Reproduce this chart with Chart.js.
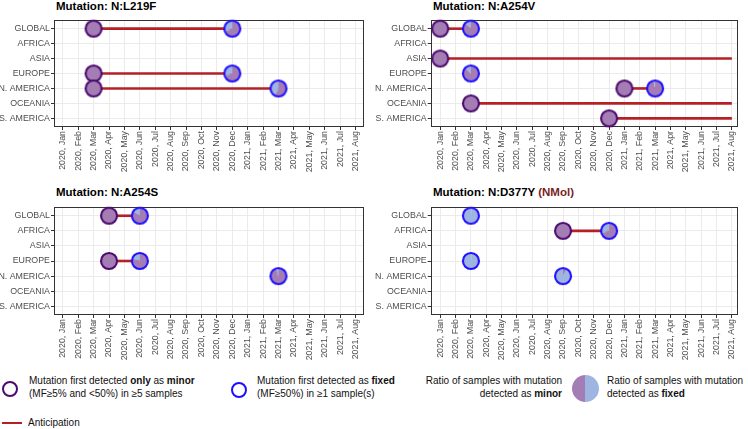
<!DOCTYPE html>
<html><head><meta charset="utf-8">
<script src="https://cdn.jsdelivr.net/npm/chart.js@4.4.1/dist/chart.umd.min.js"></script>
<style>
body{margin:0;width:748px;height:429px;position:relative;background:#fff;font-family:"Liberation Sans",Arial,sans-serif;overflow:hidden}
canvas{position:absolute}
.title{position:absolute;font-weight:bold;font-size:11.5px;line-height:13px;color:#000;white-space:nowrap}
.lg{position:absolute;font-size:10px;line-height:13px;color:#111;white-space:nowrap}
.ring{position:absolute;box-sizing:border-box;border-radius:50%;background:#fff}
</style></head><body>

<div class="title" style="left:56px;top:0px">Mutation: N:L219F</div>
<div class="title" style="left:433px;top:0px">Mutation: N:A254V</div>
<div class="title" style="left:56px;top:186px">Mutation: N:A254S</div>
<div class="title" style="left:433px;top:186px">Mutation: N:D377Y <span style="color:#7A1E1E">(NMol)</span></div>

<canvas id="c1" width="374" height="165" style="left:0px;top:10px"></canvas>
<canvas id="c2" width="374" height="165" style="left:374px;top:10px"></canvas>
<canvas id="c3" width="374" height="165" style="left:0px;top:197px"></canvas>
<canvas id="c4" width="374" height="165" style="left:374px;top:197px"></canvas>

<div class="ring" style="left:2px;top:381px;width:16px;height:16px;border:2.6px solid #4B0A6E"></div>
<div class="lg" style="left:29px;top:374px">Mutation first detected <b>only</b> as <b>minor</b><br>(MF≥5% and &lt;50%) in ≥5 samples</div>
<div class="ring" style="left:231px;top:382px;width:16px;height:16px;border:2.6px solid #1F0FFF"></div>
<div class="lg" style="left:257px;top:374px">Mutation first detected as <b>fixed</b><br>(MF≥50%) in ≥1 sample(s)</div>
<div class="lg" style="right:186px;top:374px;text-align:right">Ratio of samples with mutation<br>detected as <b>minor</b></div>
<div style="position:absolute;left:572px;top:375px;width:27px;height:27px;border-radius:50%;background:linear-gradient(to right,#A57DB5 50%,#9DB5E0 50%)"></div>
<div class="lg" style="left:607px;top:374px">Ratio of samples with mutation<br>detected as <b>fixed</b></div>
<div style="position:absolute;left:2px;top:422px;width:20px;height:2px;background:#B52025"></div>
<div class="lg" style="left:28px;top:416px">Anticipation</div>

<script>
// ---- data ----
const regions = ["GLOBAL","AFRICA","ASIA","EUROPE","N. AMERICA","OCEANIA","S. AMERICA"];
const months = ["2020, Jan","2020, Feb","2020, Mar","2020, Apr","2020, May","2020, Jun","2020, Jul","2020, Aug","2020, Sep","2020, Oct","2020, Nov","2020, Dec","2021, Jan","2021, Feb","2021, Mar","2021, Apr","2021, May","2021, Jun","2021, Jul","2021, Aug"];

// [region, month first detected only as minor]
const L219F_minor = [["GLOBAL","2020, Mar"],["EUROPE","2020, Mar"],["N. AMERICA","2020, Mar"]];
// [region, month first detected as fixed, ratio of samples detected as fixed]
const L219F_fixed = [["GLOBAL","2020, Dec",0.30],["EUROPE","2020, Dec",0.30],["N. AMERICA","2021, Mar",0.42]];
// [region, from, to] anticipation
const L219F_antic = [["GLOBAL","2020, Mar","2020, Dec"],["EUROPE","2020, Mar","2020, Dec"],["N. AMERICA","2020, Mar","2021, Mar"]];

const A254V_minor = [["GLOBAL","2020, Jan"],["ASIA","2020, Jan"],["N. AMERICA","2021, Jan"],["OCEANIA","2020, Mar"],["S. AMERICA","2020, Dec"]];
const A254V_fixed = [["GLOBAL","2020, Mar",0.12],["EUROPE","2020, Mar",0.12],["N. AMERICA","2021, Mar",0.03]];
const A254V_antic = [["GLOBAL","2020, Jan","2020, Mar"],["ASIA","2020, Jan","2021, Aug"],["N. AMERICA","2021, Jan","2021, Mar"],["OCEANIA","2020, Mar","2021, Aug"],["S. AMERICA","2020, Dec","2021, Aug"]];

const A254S_minor = [["GLOBAL","2020, Apr"],["EUROPE","2020, Apr"]];
const A254S_fixed = [["GLOBAL","2020, Jun",0.15],["EUROPE","2020, Jun",0.20],["N. AMERICA","2021, Mar",0.04]];
const A254S_antic = [["GLOBAL","2020, Apr","2020, Jun"],["EUROPE","2020, Apr","2020, Jun"]];

const D377Y_minor = [["AFRICA","2020, Sep"]];
const D377Y_fixed = [["GLOBAL","2020, Mar",0.99],["AFRICA","2020, Dec",0.30],["EUROPE","2020, Mar",0.99],["N. AMERICA","2020, Sep",0.92]];
const D377Y_antic = [["AFRICA","2020, Sep","2020, Dec"]];

// ---- styles ----
const PURPLE = "#A57DB5", BLUE = "#9DB5E0";
const MINOR_BORDER = "#4B0A6E", FIXED_BORDER = "#1F0FFF", RED = "#B52025";
const FONT = "'Liberation Sans', Arial, sans-serif";

function pieIcon(fixedRatio, border){
  const c = document.createElement("canvas");
  c.width = 20; c.height = 20;
  const g = c.getContext("2d");
  const cx = 10, cy = 10, r = 8;
  const start = -Math.PI/2, mid = start + (1-fixedRatio)*2*Math.PI, end = start + 2*Math.PI;
  if (fixedRatio < 1){ g.beginPath(); g.moveTo(cx,cy); g.arc(cx,cy,r,start,mid); g.closePath(); g.fillStyle = PURPLE; g.fill(); }
  if (fixedRatio > 0){ g.beginPath(); g.moveTo(cx,cy); g.arc(cx,cy,r,mid,end); g.closePath(); g.fillStyle = BLUE; g.fill(); }
  g.beginPath(); g.arc(cx,cy,r,0,2*Math.PI); g.lineWidth = 2.1; g.strokeStyle = border; g.stroke();
  return c;
}

const boxPlugin = {id:"box", beforeDatasetsDraw(chart){
  const a = chart.chartArea, ctx = chart.ctx;
  ctx.save(); ctx.strokeStyle = "#333333"; ctx.lineWidth = 1;
  ctx.strokeRect(Math.round(a.left)+0.5, Math.round(a.top)+0.5, Math.round(a.right-a.left)-1, Math.round(a.bottom-a.top)-1);
  ctx.restore();
}};

function zeroPad(s){ s.paddingLeft = 0; s.paddingRight = 0; s.paddingTop = 0; s.paddingBottom = 0; }

function makePanel(id, minor, fixed, antic, g){
  const pts = [], styles = [];
  minor.forEach(([r,m]) => { pts.push({x: months.indexOf(m), y: regions.indexOf(r)}); styles.push(pieIcon(0, MINOR_BORDER)); });
  fixed.forEach(([r,m,f]) => { pts.push({x: months.indexOf(m), y: regions.indexOf(r)}); styles.push(pieIcon(f, FIXED_BORDER)); });
  const datasets = [{type:"scatter", data:pts, pointStyle:styles, pointRadius:9, order:0, clip:false}];
  antic.forEach(([r,s,e]) => datasets.push({
    type:"line", data:[{x:months.indexOf(s), y:regions.indexOf(r)},{x:months.indexOf(e), y:regions.indexOf(r)}],
    borderColor:RED, borderWidth:2.6, pointRadius:0, order:1, clip:false, fill:false
  }));
  const tickFont = {size:8.85, family:FONT};
  const H = 165;
  g.yw = g.left; g.xh = H - g.bottom;
  const pad = {top:g.top, right:374-g.right, left:0, bottom:0};
  const chart = new Chart(document.getElementById(id), {
    type:"scatter",
    data:{datasets},
    plugins:[boxPlugin],
    options:{
      responsive:false, animation:false, events:[],
      layout:{padding:Object.assign({}, pad)},
      plugins:{legend:{display:false}, tooltip:{enabled:false}, title:{display:false}},
      scales:{
        x:{type:"linear", min:g.xmin, max:g.xmax,
           afterBuildTicks:s=>{ s.ticks = months.map((_,i)=>({value:i})); },
           afterFit:s=>{ s.height = g.xh; zeroPad(s); },
           ticks:{autoSkip:false, maxRotation:90, minRotation:90, padding:1, color:"#4D4D4D", font:tickFont, callback:v=>months[v]},
           grid:{color:"#EBEBEB", lineWidth:1, drawTicks:true, tickLength:3, tickColor:"#333333"},
           border:{display:false}},
        y:{type:"linear", reverse:true, min:-0.58, max:6.58,
           afterBuildTicks:s=>{ s.ticks = regions.map((_,i)=>({value:i})); },
           afterFit:s=>{ s.width = g.yw; zeroPad(s); },
           ticks:{padding:1, color:"#4D4D4D", font:tickFont, callback:v=>regions[v]},
           grid:{color:"#EBEBEB", lineWidth:1, drawTicks:true, tickLength:3, tickColor:"#333333"},
           border:{display:false}}
      }
    }
  });
  // calibrate the plot area to the target frame
  for (let k = 0; k < 3; k++){
    const a = chart.chartArea;
    if (!a || !isFinite(a.left)) break;
    const dTop = g.top - a.top, dRight = a.right - g.right, dLeft = g.left - a.left, dBottom = a.bottom - g.bottom;
    if (Math.abs(dTop) + Math.abs(dRight) + Math.abs(dLeft) + Math.abs(dBottom) < 0.05) break;
    pad.top += dTop; pad.right += dRight;
    g.yw += dLeft; g.xh += dBottom;
    chart.config.options.layout.padding = Object.assign({}, pad);
    chart.update();
  }
}

makePanel("c1", L219F_minor, L219F_fixed, L219F_antic, {left:54,   right:370.7, top:5, bottom:117, xmin:-0.57, xmax:19.55});
makePanel("c2", A254V_minor, A254V_fixed, A254V_antic, {left:56.7, right:370,   top:5, bottom:117, xmin:-0.62, xmax:19.4});
makePanel("c3", A254S_minor, A254S_fixed, A254S_antic, {left:54,   right:370.7, top:5, bottom:118, xmin:-0.57, xmax:19.55});
makePanel("c4", D377Y_minor, D377Y_fixed, D377Y_antic, {left:56.7, right:370,   top:5, bottom:118, xmin:-0.62, xmax:19.4});
</script>
</body></html>
